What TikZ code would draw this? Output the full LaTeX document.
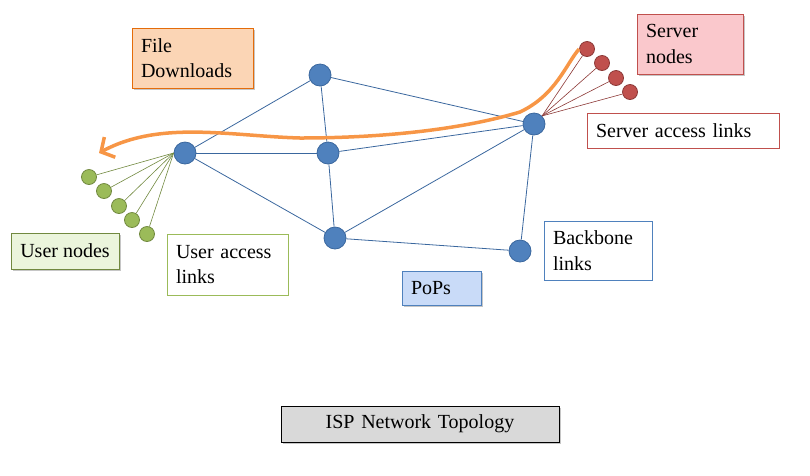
\documentclass[tikz,border=0pt]{standalone}
\usepackage{fontspec}
\setmainfont{Liberation Serif}
\usetikzlibrary{arrows.meta, positioning, shadows}

\definecolor{popblue}{HTML}{4F81BD}
\definecolor{popedge}{HTML}{3A679E}
\definecolor{usrgreen}{HTML}{9BBB59}
\definecolor{usredge}{HTML}{71893F}
\definecolor{srvred}{HTML}{C0504D}
\definecolor{srvedge}{HTML}{8C3836}
\definecolor{dlorange}{HTML}{F79646}
\definecolor{dlfill}{HTML}{FBD5B5}
\definecolor{dledge}{HTML}{E46C0A}
\definecolor{srvfill}{HTML}{FAC8CC}
\definecolor{usrfill}{HTML}{EBF5DC}
\definecolor{popfill}{HTML}{C9DBF8}

\begin{document}
\begin{tikzpicture}[x=1pt,y=-1pt,
  pop/.style={circle, fill=popblue, draw=popedge, line width=0.8pt, minimum size=22pt, inner sep=0pt},
  usr/.style={circle, fill=usrgreen, draw=usredge, line width=0.8pt, minimum size=15pt, inner sep=0pt},
  srv/.style={circle, fill=srvred, draw=srvedge, line width=0.8pt, minimum size=15pt, inner sep=0pt},
  lbl/.style={draw, align=left, inner xsep=9pt, font=\fontsize{20}{25.5}\selectfont},
  shade/.style={drop shadow={shadow xshift=2pt, shadow yshift=-2pt, opacity=.45}},
  link/.style={draw=popedge, line width=0.8pt},
  ulink/.style={draw=usredge, line width=0.6pt},
  slink/.style={draw=srvedge, line width=0.6pt},
  dl/.style={draw=dlorange, line width=3.5pt, -{Straight Barb[length=10pt,width=23pt]}}]

\useasboundingbox (0,0) rectangle (810,475);

% PoPs
\node[pop] (popL) at (185,153) {};
\node[pop] (popT) at (320,75) {};
\node[pop] (popC) at (328,153) {};
\node[pop] (popB) at (335,238) {};
\node[pop] (popR) at (534,124) {};
\node[pop] (popBR) at (520,251) {};

% backbone links
\foreach \a/\b in {popL/popT, popL/popC, popL/popB, popT/popC, popT/popR,
  popC/popR, popC/popB, popB/popR, popB/popBR, popR/popBR}
  \draw[link] (\a) -- (\b);

% user nodes and access links
\foreach \i/\x/\y in {1/89/177, 2/104/191, 3/119/206, 4/132/220, 5/147/234} {
  \node[usr] (u\i) at (\x,\y) {};
  \draw[ulink] (popL.west) -- (u\i);
}

% server nodes and access links
\foreach \i/\x/\y in {1/587/49, 2/602/63, 3/616/78, 4/630/92} {
  \node[srv] (s\i) at (\x,\y) {};
  \draw[slink] (popR.45) -- (s\i);
}

% download path
\coordinate (dlend) at (99,153);
\draw[dl] (s1.west) .. controls (566,64) and (556,95) .. (520,112)
  .. controls (460,130) and (380,138) .. (300,138)
  .. controls (230,136) and (160,120) .. (dlend);

% labels
\node[lbl, fill=dlfill, draw=dledge, shade, minimum width=121pt, minimum height=60pt, text width=103pt] (lblFile) at (192.5,58) {File\\Downloads};
\node[lbl, fill=srvfill, draw=srvred, shade, minimum width=106pt, minimum height=60pt, text width=88pt] (lblSrv) at (690,44) {Server\\nodes};
\node[lbl, fill=white, draw=srvred, minimum width=192pt, minimum height=35pt, text width=174pt] (lblSrvLink) at (683,130.5) {Server access links};
\node[lbl, fill=usrfill, draw=usredge, shade, minimum width=106pt, minimum height=36pt] (lblUsr) at (65,251) {User nodes};
\node[lbl, fill=white, draw=usrgreen, minimum width=121pt, minimum height=61pt, text width=103pt] (lblUsrLink) at (227.5,264.5) {User access\\links};
\node[lbl, fill=white, draw=popblue, minimum width=108pt, minimum height=59pt, text width=90pt] (lblBone) at (598,250.5) {Backbone\\links};
\node[lbl, fill=popfill, draw=popblue, shade, minimum width=79pt, minimum height=34pt, text width=61pt] (lblPoP) at (441.5,288) {PoPs};
\node[lbl, fill=black!15, draw=black, shade, align=center, minimum width=278pt, minimum height=36pt, text width=260pt] (lblTitle) at (420,424) {ISP Network Topology};
\end{tikzpicture}
\end{document}
